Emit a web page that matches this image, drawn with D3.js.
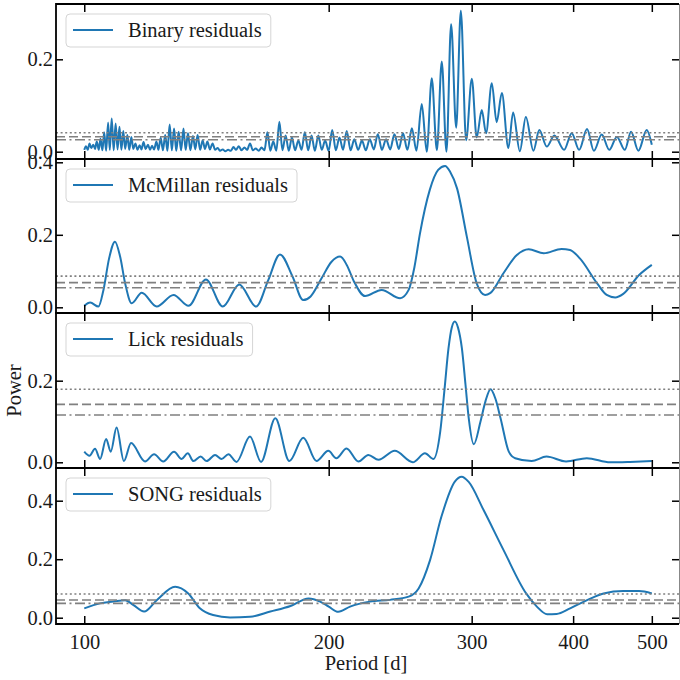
<!DOCTYPE html>
<html>
<head>
<meta charset="utf-8">
<script src="https://cdn.jsdelivr.net/npm/d3@7"></script>
<style>
body { margin: 0; background: #fff; }
text { font-family: "Liberation Serif", "DejaVu Serif", serif; }
</style>
</head>
<body>
<script>
// periodogram values: [period in days, power]
var binaryResiduals = [
    [100.0,0.004],[100.5,0.012],[101.0,0.004],[101.5,0.018],[102.0,0.008],[102.6,0.015],[103.1,0.006],[103.6,0.022],[104.2,0.004],[104.7,0.028],
    [105.3,0.003],[105.8,0.042],[106.4,0.002],[107.0,0.063],[107.5,0.004],[108.1,0.072],[108.7,0.003],[109.3,0.061],[109.9,0.005],[110.5,0.054],
    [111.1,0.004],[111.7,0.045],[112.3,0.006],[113.0,0.036],[113.6,0.004],[114.3,0.032],[114.9,0.006],[115.6,0.018],[116.3,0.004],[117.0,0.014],
    [117.6,0.005],[118.3,0.021],[119.0,0.006],[119.8,0.015],[120.5,0.004],[121.2,0.013],[121.9,0.005],[122.7,0.022],[123.4,0.004],[124.2,0.030],
    [125.0,0.003],[125.8,0.036],[126.6,0.002],[127.4,0.059],[128.2,0.003],[129.0,0.050],[129.8,0.002],[130.7,0.043],[131.6,0.003],[132.5,0.050],
    [133.3,0.004],[134.2,0.040],[135.1,0.003],[136.1,0.034],[137.0,0.005],[137.9,0.036],[138.9,0.004],[139.9,0.025],[140.8,0.006],[141.8,0.022],
    [142.8,0.005],[143.9,0.018],[144.9,0.004],[146.0,0.008],[147.0,0.002],[148.1,0.005],[149.2,0.001],[150.4,0.004],[151.5,0.002],[152.7,0.010],
    [153.8,0.004],[155.0,0.012],[156.2,0.003],[157.5,0.009],[158.7,0.004],[160.0,0.018],[161.3,0.003],[162.6,0.007],[164.0,0.002],[165.3,0.009],
    [166.7,0.003],[168.1,0.042],[169.5,0.002],[170.9,0.022],[172.4,0.002],[173.9,0.065],[175.4,0.003],[177.0,0.035],[178.6,0.002],[180.2,0.031],
    [181.8,0.003],[183.5,0.024],[185.2,0.004],[186.9,0.042],[188.7,0.003],[190.5,0.035],[192.3,0.002],[194.2,0.035],[196.1,0.004],[198.0,0.024],
    [200.0,0.002],[202.0,0.047],[204.1,0.003],[206.2,0.031],[208.3,0.004],[210.5,0.045],[212.8,0.003],[215.1,0.027],[217.4,0.004],[219.8,0.024],
    [222.2,0.003],[224.7,0.027],[227.3,0.005],[229.9,0.038],[232.6,0.004],[235.3,0.027],[238.1,0.005],[241.0,0.038],[244.0,0.006],[246.9,0.040],
    [250.0,0.004],[253.2,0.051],[256.5,0.002],[260.4,0.103],[264.1,0.000],[267.9,0.159],[271.8,0.003],[275.6,0.195],[279.3,0.000],[283.0,0.276],
    [287.1,0.052],[290.9,0.305],[295.3,0.025],[300.1,0.158],[304.3,0.031],[308.7,0.090],[312.5,0.040],[317.6,0.148],[322.0,0.064],[326.8,0.127],
    [332.9,0.008],[337.4,0.085],[343.9,0.001],[349.8,0.075],[357.4,0.002],[363.4,0.047],[371.2,0.011],[379.3,0.035],[389.9,0.004],[398.4,0.040],
    [406.9,0.004],[416.1,0.049],[424.2,0.002],[433.8,0.037],[443.2,0.004],[452.8,0.032],[463.2,0.004],[471.4,0.043],[481.3,0.002],[492.8,0.047],
    [500.0,0.015]
];
var mcmillanResiduals = [
    [100.0,0.004],[101.7,0.013],[104.1,0.002],[105.6,0.048],[107.3,0.135],[109.1,0.181],[110.7,0.140],[112.3,0.066],[114.4,0.011],[117.7,0.040],
    [122.8,0.002],[128.8,0.034],[134.4,0.004],[141.2,0.077],[148.1,0.002],[155.2,0.063],[162.8,0.002],[168.5,0.075],[174.2,0.146],[180.5,0.085],
    [186.0,0.020],[190.0,0.030],[196.0,0.080],[201.5,0.125],[206.6,0.140],[210.5,0.117],[215.0,0.070],[221.7,0.031],[232.4,0.048],[244.9,0.025],
    [250.9,0.048],[255.0,0.110],[259.1,0.204],[266.4,0.324],[272.8,0.379],[278.2,0.390],[282.2,0.374],[287.8,0.328],[295.9,0.195],[304.3,0.066],
    [311.6,0.034],[316.1,0.039],[328.3,0.094],[341.0,0.144],[352.6,0.160],[368.0,0.149],[387.1,0.161],[396.5,0.158],[407.7,0.135],[428.2,0.066],
    [439.9,0.034],[450.7,0.027],[461.1,0.037],[482.3,0.089],[500.0,0.117]
];
var lickResiduals = [
    [100.0,0.026],[101.5,0.016],[103.1,0.033],[104.6,0.008],[106.4,0.057],[107.8,0.026],[109.6,0.085],[111.9,0.003],[114.2,0.047],[118.8,0.002],
    [121.9,0.020],[125.1,0.002],[129.0,0.026],[131.8,0.008],[134.1,0.022],[136.3,0.003],[139.1,0.014],[141.5,0.003],[144.9,0.018],[147.6,0.008],
    [150.5,0.020],[154.0,0.001],[160.0,0.063],[165.1,0.001],[171.9,0.108],[178.9,0.003],[186.1,0.060],[193.2,0.003],[199.8,0.028],[204.4,0.010],
    [210.4,0.034],[217.6,0.002],[223.8,0.018],[230.3,0.006],[241.2,0.028],[253.9,0.000],[262.8,0.022],[269.2,0.008],[274.4,0.075],[277.8,0.180],
    [280.9,0.279],[283.5,0.330],[286.0,0.345],[288.6,0.330],[291.8,0.279],[294.8,0.190],[297.5,0.108],[301.8,0.044],[307.6,0.100],[312.0,0.150],
    [316.5,0.179],[321.0,0.155],[325.6,0.108],[333.3,0.026],[339.4,0.010],[355.6,0.003],[370.9,0.014],[392.1,0.002],[415.8,0.010],[444.4,0.000],
    [470.0,0.001],[500.0,0.003]
];
var songResiduals = [
    [100.0,0.032],[104.6,0.049],[108.6,0.055],[112.3,0.060],[115.0,0.043],[118.5,0.021],[122.8,0.060],[129.4,0.106],[134.3,0.083],[138.8,0.032],
    [144.1,0.009],[151.2,0.001],[160.0,0.003],[169.5,0.021],[179.5,0.040],[188.9,0.066],[195.2,0.055],[200.0,0.038],[205.5,0.020],[212.5,0.038],
    [224.8,0.055],[238.0,0.061],[250.9,0.072],[258.1,0.100],[266.6,0.197],[275.3,0.345],[286.0,0.465],[291.6,0.482],[297.3,0.465],[310.3,0.368],
    [328.4,0.231],[350.1,0.083],[360.9,0.038],[371.6,0.012],[381.7,0.013],[396.6,0.032],[416.1,0.060],[436.0,0.083],[461.1,0.091],[482.3,0.091],
    [500.0,0.083]
];

var panelNames = ["Binary residuals", "McMillan residuals", "Lick residuals", "SONG residuals"];
var panelSeries = [binaryResiduals, mcmillanResiduals, lickResiduals, songResiduals];
var periodTicks = [100, 200, 300, 400, 500];
var powerTicks = [[0, 0.2], [0, 0.2, 0.4], [0, 0.2], [0, 0.2, 0.4]];
var powerDomains = [[-0.0158, 0.3197], [-0.0157, 0.4091], [-0.014, 0.3659], [-0.0215, 0.5118]];
// false alarm levels: dotted, dashed, dash-dot
var faLevels = [[0.041, 0.0325, 0.026], [0.086, 0.068, 0.054], [0.179, 0.142, 0.116], [0.081, 0.0605, 0.049]];
var faDashes = ["2,2.6", "9,4", "10,3.5,2,3.5"];

var left = 56, right = 680;
var panelTop = [4, 159, 313, 468], panelBottom = [159, 313, 468, 624];

var svg = d3.select("body").append("svg")
    .attr("width", 680)
    .attr("height", 680);

var x = d3.scaleLog().domain([92.3, 541.6]).range([left, right]);

panelSeries.forEach(function(series, i) {
    var top = panelTop[i], bottom = panelBottom[i];
    var y = d3.scaleLinear().domain(powerDomains[i]).range([bottom, top]);
    var g = svg.append("g");

    var line = d3.line()
        .x(function(d) { return x(d[0]); })
        .y(function(d) { return y(d[1]); })
        .curve(d3.curveMonotoneX);

    g.append("path")
        .datum(series)
        .attr("d", line)
        .attr("fill", "none")
        .attr("stroke", "#1f77b4")
        .attr("stroke-width", 2)
        .attr("stroke-linejoin", "round");

    faLevels[i].forEach(function(v, k) {
        g.append("line")
            .attr("x1", left).attr("x2", right)
            .attr("y1", y(v)).attr("y2", y(v))
            .attr("stroke", "#808080")
            .attr("stroke-width", 1.6)
            .attr("stroke-dasharray", faDashes[k]);
    });

    // ticks pointing inwards on all four sides
    var yl = g.append("g").attr("transform", "translate(" + left + ",0)")
        .call(d3.axisLeft(y).tickValues(powerTicks[i]).tickSize(-7).tickPadding(3)
            .tickFormat(d3.format(".1f")));
    var yr = g.append("g").attr("transform", "translate(679,0)")
        .call(d3.axisRight(y).tickValues(powerTicks[i]).tickSize(-7).tickFormat(""));
    var xt = g.append("g").attr("transform", "translate(0," + top + ")")
        .call(d3.axisTop(x).tickValues(periodTicks).tickSize(-8).tickFormat(""));
    var xb = g.append("g").attr("transform", "translate(0," + bottom + ")")
        .call(d3.axisBottom(x).tickValues(periodTicks).tickSize(-8).tickPadding(10)
            .tickFormat(i === 3 ? d3.format("d") : ""));

    [yl, yr, xt, xb].forEach(function(a) {
        a.select(".domain").remove();
        a.selectAll(".tick line").attr("stroke", "#000").attr("stroke-width", 1.5);
        a.selectAll("text").attr("font-size", 20.5).attr("fill", "#1a1a1a")
            .style("font-family", "'Liberation Serif', 'DejaVu Serif', serif");
    });

    // frame
    g.append("path")
        .attr("d", "M" + 679 + "," + top + "H" + left + "V" + bottom + "H" + 679)
        .attr("fill", "none")
        .attr("stroke", "#000")
        .attr("stroke-width", 1.8);
    g.append("line")
        .attr("x1", 679.5).attr("x2", 679.5)
        .attr("y1", top).attr("y2", bottom)
        .attr("stroke", "#888")
        .attr("stroke-width", 1);

    // legend
    var lg = g.append("g").attr("transform", "translate(66," + (top + 10) + ")");
    var box = lg.append("rect")
        .attr("height", 33)
        .attr("rx", 4)
        .attr("fill", "#fff")
        .attr("fill-opacity", 0.8)
        .attr("stroke", "#d5d5d5")
        .attr("stroke-width", 1);
    lg.append("line")
        .attr("x1", 7).attr("x2", 47)
        .attr("y1", 16).attr("y2", 16)
        .attr("stroke", "#1f77b4")
        .attr("stroke-width", 2);
    var label = lg.append("text")
        .attr("x", 62)
        .attr("y", 22.5)
        .attr("font-size", 20.5)
        .attr("fill", "#1a1a1a")
        .text(panelNames[i]);
    box.attr("width", 62 + label.node().getComputedTextLength() + 9);
});

svg.append("text")
    .attr("transform", "translate(20.5,390.5) rotate(-90)")
    .attr("text-anchor", "middle")
    .attr("font-size", 20.5)
    .attr("fill", "#1a1a1a")
    .text("Power");

svg.append("text")
    .attr("x", 366)
    .attr("y", 670)
    .attr("text-anchor", "middle")
    .attr("font-size", 20.5)
    .attr("fill", "#1a1a1a")
    .text("Period [d]");
</script>
</body>
</html>
